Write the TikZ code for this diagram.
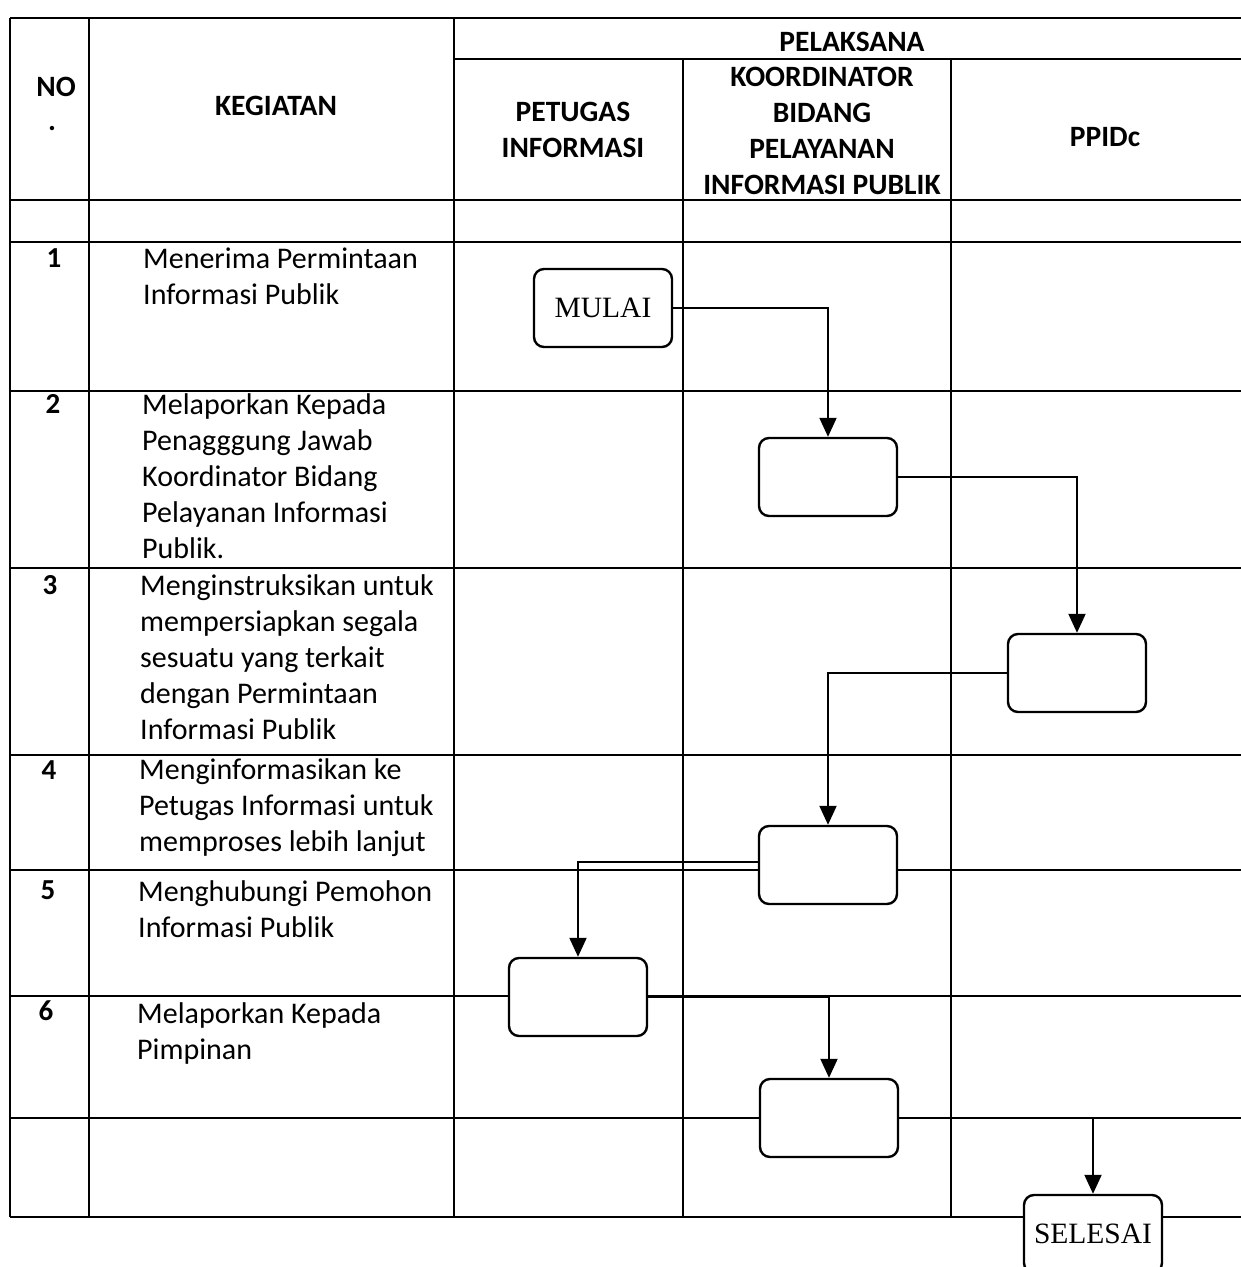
\documentclass[tikz,border=0pt]{standalone}
\usepackage{fontspec}
\setmainfont{Carlito}
\newfontfamily\timesf{Liberation Serif}
\usetikzlibrary{arrows.meta}
\begin{document}
\begin{tikzpicture}[x=1pt,y=-1pt,
  grid/.style={line width=2pt},
  box/.style={draw, line width=2.4pt, rounded corners=10pt, fill=white, minimum width=138pt, minimum height=78pt, inner sep=0pt},
  term/.style={box, font=\timesf\fontsize{29.5}{31}\selectfont},
  conn/.style={line width=2pt, -{Triangle[length=19pt,width=17pt]}},
  hdr/.style={font=\bfseries\fontsize{29.5}{36}\selectfont, align=center, inner sep=0pt},
  act/.style={font=\fontsize{30}{36}\selectfont, align=left, anchor=north west, inner sep=0pt},
  num/.style={font=\bfseries\fontsize{29}{30}\selectfont, inner sep=0pt}]
\useasboundingbox (0,0) rectangle (1241,1267);
% table grid
\draw[grid] (10,18) -- (1241,18);
\draw[grid] (454,59) -- (1241,59);
\foreach \yy in {200,242,391,568,755,870,996,1118,1217}
  \draw[grid] (10,\yy) -- (1241,\yy);
\draw[grid] (10,18) -- (10,1217);
\draw[grid] (89,18) -- (89,1217);
\draw[grid] (454,18) -- (454,1217);
\draw[grid] (683,59) -- (683,1217);
\draw[grid] (951,59) -- (951,1217);
% headers
\node[hdr] (hno) at (56,87) {NO};
\node[hdr] (hdot) at (52,129) {.};
\node[hdr] (hkeg) at (276,106) {KEGIATAN};
\node[hdr] (hpel) at (852,42) {PELAKSANA};
\node[hdr] (hpet) at (573,130) {PETUGAS\\INFORMASI};
\node[hdr] (hkoo) at (822,131) {KOORDINATOR\\BIDANG\\PELAYANAN\\INFORMASI PUBLIK};
\node[hdr] (hppid) at (1105,137) {PPIDc};
% numbers
\node[num] (n1) at (54,258) {1};
\node[num] (n2) at (53,404) {2};
\node[num] (n3) at (50,585) {3};
\node[num] (n4) at (49,770) {4};
\node[num] (n5) at (48,890) {5};
\node[num] (n6) at (46,1011) {6};
% activities
\node[act] (a1) at (143,243) {\strut Menerima Permintaan\\Informasi Publik};
\node[act] (a2) at (142,389) {\strut Melaporkan Kepada\\Penagggung Jawab\\Koordinator Bidang\\Pelayanan Informasi\\Publik.};
\node[act] (a3) at (140,570) {\strut Menginstruksikan untuk\\mempersiapkan segala\\sesuatu yang terkait\\dengan Permintaan\\Informasi Publik};
\node[act] (a4) at (139,754) {\strut Menginformasikan ke\\Petugas Informasi untuk\\memproses lebih lanjut};
\node[act] (a5) at (138,876) {\strut Menghubungi Pemohon\\Informasi Publik};
\node[act] (a6) at (137,998) {\strut Melaporkan Kepada\\Pimpinan};
% flow boxes
\node[term] (mulai) at (603,308) {MULAI};
\node[box] (b2) at (828,477) {};
\node[box] (b3) at (1077,673) {};
\node[box] (b4) at (828,865) {};
\node[box] (b5) at (578,997) {};
\node[box] (b6) at (829,1118) {};
\node[term] (selesai) at (1093,1234) {SELESAI};
% connectors
\draw[conn] (mulai.east) -| (b2.north);
\draw[conn] (b2.east) -| (b3.north);
\draw[conn] (b3.west) -| (b4.north);
\draw[conn] ([yshift=3pt]b4.west) -| (b5.north);
\draw[conn] (b5.east) -| (b6.north);
\draw[conn] (b6.east) -| (selesai.north);
\end{tikzpicture}
\end{document}
